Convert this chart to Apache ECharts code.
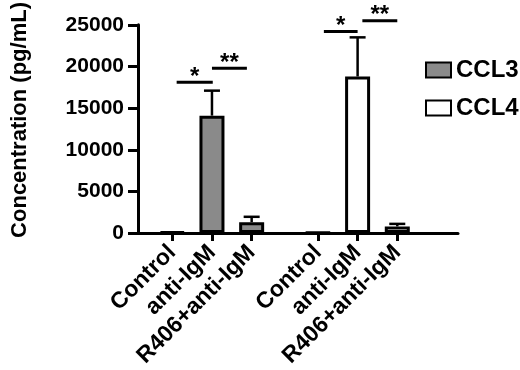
<!DOCTYPE html>
<html>
<head>
<meta charset="utf-8">
<script src="https://cdn.jsdelivr.net/npm/echarts@6/dist/echarts.min.js"></script>
<style>
  html, body { margin: 0; padding: 0; background: #fff; }
  #chart { width: 520px; height: 370px; }
</style>
</head>
<body>
<div id="chart"></div>
<script>
// categories and where they sit on the (value) x axis
const categories = ['Control', 'anti-IgM', 'R406+anti-IgM']
const ccl3Pos = [1, 2, 3]
const ccl4Pos = [4.67, 5.67, 6.67]

// means and upper error (SEM) in pg/mL
const ccl3Mean = [150, 14100, 1300]
const ccl3Sem = [0, 3000, 650]
const ccl4Mean = [50, 18800, 800]
const ccl4Sem = [0, 4700, 300]

// significance lines: [x from, x to, height]
const sigLines = [
  [1.11, 2.02, 18100],
  [2.0, 2.88, 19800],
  [4.82, 5.67, 24200],
  [5.79, 6.67, 25500]
]
const sigMarks = ['*', '**', '*', '**']

const font = "'Liberation Sans', Arial, Helvetica, sans-serif"
const allPos = ccl3Pos.concat(ccl4Pos)
const allLabels = categories.concat(categories)

const barData = (pos, mean) => pos.map((x, i) => [x, mean[i]])
const errData = (pos, mean, sem) => pos.map((x, i) => [x, mean[i], mean[i] + sem[i], sem[i]])

const chart = echarts.init(document.getElementById('chart'))

const errorBars = function (params, api) {
  if (!api.value(3)) return null
  const p0 = api.coord([api.value(0), api.value(1)])
  const p1 = api.coord([api.value(0), api.value(2)])
  const style = { stroke: '#000', lineWidth: 2.5 }
  return {
    type: 'group',
    children: [
      { type: 'line', shape: { x1: p0[0], y1: p0[1], x2: p1[0], y2: p1[1] }, style },
      { type: 'line', shape: { x1: p1[0] - 8, y1: p1[1], x2: p1[0] + 8, y2: p1[1] }, style }
    ]
  }
}

const option = {
  animation: false,
  textStyle: { fontFamily: font },
  grid: { left: 138, right: 62, top: 23, bottom: 135 },
  legend: {
    orient: 'vertical',
    left: 420,
    top: 53,
    icon: 'rect',
    itemWidth: 25,
    itemHeight: 15,
    itemGap: 14,
    data: ['CCL3', 'CCL4'],
    textStyle: { fontSize: 24, fontWeight: 'bold', color: '#000', fontFamily: font }
  },
  xAxis: {
    type: 'value',
    min: 0.136,
    max: 8.2,
    splitLine: { show: false },
    axisLine: { lineStyle: { color: '#000', width: 3 } },
    axisTick: { show: true, length: 8, lineStyle: { color: '#000', width: 3 }, customValues: allPos },
    axisLabel: {
      customValues: allPos,
      rotate: 45,
      margin: 16,
      fontSize: 23,
      fontWeight: 'bold',
      color: '#000',
      fontFamily: font,
      formatter: function (v) {
        let best = 0
        allPos.forEach((p, i) => { if (Math.abs(p - v) < Math.abs(allPos[best] - v)) best = i })
        return allLabels[best]
      }
    }
  },
  yAxis: {
    type: 'value',
    min: 0,
    max: 25000,
    interval: 5000,
    name: 'Concentration (pg/mL)',
    nameLocation: 'middle',
    nameGap: 107,
    nameTextStyle: { fontSize: 22, fontWeight: 'bold', color: '#000', fontFamily: font, padding: [0, 0, 0, 18] },
    splitLine: { show: false },
    axisLine: { show: true, lineStyle: { color: '#000', width: 3 } },
    axisTick: { show: true, length: 10, lineStyle: { color: '#000', width: 3 } },
    axisLabel: {
      margin: 14, fontSize: 21, fontWeight: 'bold', color: '#000', fontFamily: font,
      formatter: v => String(v)
    }
  },
  series: [
    {
      name: 'CCL3',
      type: 'bar',
      barWidth: 25,
      barGap: '-100%',
      itemStyle: { color: '#8a8a8a', borderColor: '#000', borderWidth: 3 },
      data: barData(ccl3Pos, ccl3Mean)
    },
    {
      name: 'CCL4',
      type: 'bar',
      barWidth: 25,
      barGap: '-100%',
      itemStyle: { color: '#fff', borderColor: '#000', borderWidth: 3 },
      data: barData(ccl4Pos, ccl4Mean)
    },
    {
      type: 'custom',
      z: 3,
      renderItem: errorBars,
      encode: { x: 0, y: [1, 2] },
      data: errData(ccl3Pos, ccl3Mean, ccl3Sem).concat(errData(ccl4Pos, ccl4Mean, ccl4Sem))
    },
    {
      type: 'custom',
      z: 3,
      clip: false,
      encode: { x: [0, 1], y: 2 },
      renderItem: function (params, api) {
        const a = api.coord([api.value(0), api.value(2)])
        const b = api.coord([api.value(1), api.value(2)])
        return {
          type: 'group',
          children: [
            { type: 'line', shape: { x1: a[0], y1: a[1], x2: b[0], y2: b[1] }, style: { stroke: '#000', lineWidth: 3 } },
            {
              type: 'text',
              x: (a[0] + b[0]) / 2,
              y: a[1] + 7,
              style: {
                text: sigMarks[params.dataIndex],
                fill: '#000',
                font: 'bold 24px ' + font,
                align: 'center',
                verticalAlign: 'bottom'
              }
            }
          ]
        }
      },
      data: sigLines
    }
  ]
}
chart.setOption(option)
</script>
</body>
</html>
